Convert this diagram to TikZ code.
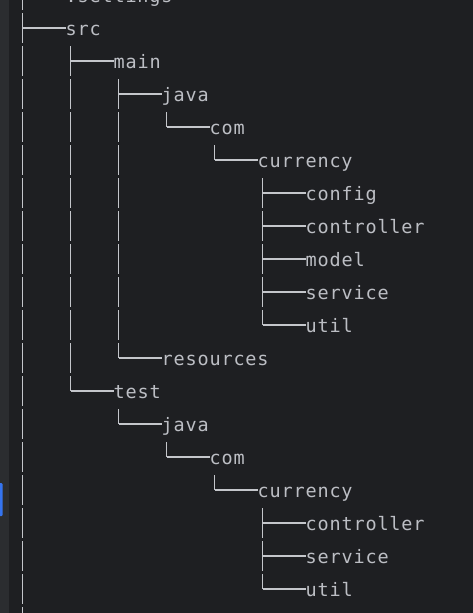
\documentclass[tikz,border=0pt]{standalone}
\usepackage{fontspec}
\usepackage{xcolor}
\usepackage{tikz}
\newfontfamily\treefont{DejaVu Sans Mono}[LetterSpace=4.5]
\definecolor{editorbg}{HTML}{1E1F22}
\definecolor{gutterbg}{HTML}{2B2D30}
\definecolor{treetext}{HTML}{BCBEC4}
\definecolor{treeline}{HTML}{C4C6CB}
\definecolor{caretblue}{HTML}{3574F0}

\begin{document}
\begin{tikzpicture}[
  x=1pt, y=-1pt,
  entry/.style={font=\treefont\fontsize{18.5}{20}\selectfont, text=treetext,
                anchor=west, inner sep=0pt, text height=14pt, text depth=0pt},
  trunk/.style={draw=treeline, line width=1.5pt, dash pattern=on 30pt off 3pt},
  arm/.style={draw=treeline, line width=1.5pt}
]
  \useasboundingbox (0,0) rectangle (473,613);
  \clip (0,0) rectangle (473,613);
  \fill[editorbg] (0,0) rectangle (473,613);
  \fill[gutterbg] (0,0) rectangle (9,613);
  \fill[caretblue, rounded corners=1pt] (-2,483) rectangle (2.5,516);
  \node[entry] (settings) at (65.5,-5) {.settings};
  \node[entry] (src) at (65.5,28) {src};
  \node[entry] (main) at (113.5,61) {main};
  \node[entry] (mainJava) at (161.5,94) {java};
  \node[entry] (mainCom) at (209.5,127) {com};
  \node[entry] (mainCurrency) at (257.5,160) {currency};
  \node[entry] (config) at (305.5,193) {config};
  \node[entry] (mainController) at (305.5,226) {controller};
  \node[entry] (model) at (305.5,259) {model};
  \node[entry] (mainService) at (305.5,292) {service};
  \node[entry] (mainUtil) at (305.5,325) {util};
  \node[entry] (resources) at (161.5,358) {resources};
  \node[entry] (test) at (113.5,391) {test};
  \node[entry] (testJava) at (161.5,424) {java};
  \node[entry] (testCom) at (209.5,457) {com};
  \node[entry] (testCurrency) at (257.5,490) {currency};
  \node[entry] (testController) at (305.5,523) {controller};
  \node[entry] (testService) at (305.5,556) {service};
  \node[entry] (testUtil) at (305.5,589) {util};
  % trunk tops sit one half row below each parent
  \coordinate (rootT) at (22.5,-20);
  \coordinate (rootB) at (22.5,640);
  \coordinate (srcT) at ([xshift=5pt,yshift=-18pt]src.west);
  \coordinate (mainT) at ([xshift=5pt,yshift=-18pt]main.west);
  \coordinate (mainJavaT) at ([xshift=5pt,yshift=-18pt]mainJava.west);
  \coordinate (mainComT) at ([xshift=5pt,yshift=-18pt]mainCom.west);
  \coordinate (mainCurrencyT) at ([xshift=5pt,yshift=-18pt]mainCurrency.west);
  \coordinate (testT) at ([xshift=5pt,yshift=-18pt]test.west);
  \coordinate (testJavaT) at ([xshift=5pt,yshift=-18pt]testJava.west);
  \coordinate (testComT) at ([xshift=5pt,yshift=-18pt]testCom.west);
  \coordinate (testCurrencyT) at ([xshift=5pt,yshift=-18pt]testCurrency.west);
  \draw[trunk] (rootT) -- (rootB);
  \draw[arm] (rootT |- src.west) -- (src.west);
  \draw[trunk] (srcT) -- (srcT |- test.west);
  \draw[arm] (srcT |- main.west) -- (main.west);
  \draw[arm] (srcT |- test.west) -- (test.west);
  \draw[trunk] (mainT) -- (mainT |- resources.west);
  \draw[arm] (mainT |- mainJava.west) -- (mainJava.west);
  \draw[arm] (mainT |- resources.west) -- (resources.west);
  \draw[trunk] (mainJavaT) -- (mainJavaT |- mainCom.west);
  \draw[arm] (mainJavaT |- mainCom.west) -- (mainCom.west);
  \draw[trunk] (mainComT) -- (mainComT |- mainCurrency.west);
  \draw[arm] (mainComT |- mainCurrency.west) -- (mainCurrency.west);
  \draw[trunk] (mainCurrencyT) -- (mainCurrencyT |- mainUtil.west);
  \draw[arm] (mainCurrencyT |- config.west) -- (config.west);
  \draw[arm] (mainCurrencyT |- mainController.west) -- (mainController.west);
  \draw[arm] (mainCurrencyT |- model.west) -- (model.west);
  \draw[arm] (mainCurrencyT |- mainService.west) -- (mainService.west);
  \draw[arm] (mainCurrencyT |- mainUtil.west) -- (mainUtil.west);
  \draw[trunk] (testT) -- (testT |- testJava.west);
  \draw[arm] (testT |- testJava.west) -- (testJava.west);
  \draw[trunk] (testJavaT) -- (testJavaT |- testCom.west);
  \draw[arm] (testJavaT |- testCom.west) -- (testCom.west);
  \draw[trunk] (testComT) -- (testComT |- testCurrency.west);
  \draw[arm] (testComT |- testCurrency.west) -- (testCurrency.west);
  \draw[trunk] (testCurrencyT) -- (testCurrencyT |- testUtil.west);
  \draw[arm] (testCurrencyT |- testController.west) -- (testController.west);
  \draw[arm] (testCurrencyT |- testService.west) -- (testService.west);
  \draw[arm] (testCurrencyT |- testUtil.west) -- (testUtil.west);
\end{tikzpicture}
\end{document}
